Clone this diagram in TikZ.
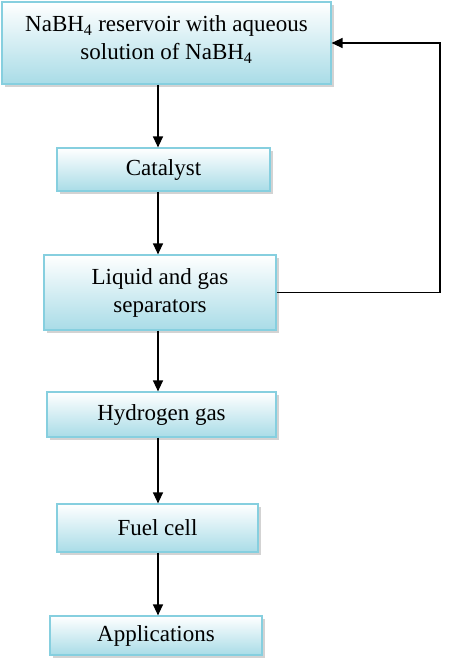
\documentclass[tikz,border=0pt]{standalone}
\usepackage{fontspec}
\setmainfont{Liberation Serif}
\usepackage{tikz}
\usetikzlibrary{arrows.meta, shadows}

\definecolor{boxedge}{HTML}{86CFDF}
\definecolor{boxfill}{HTML}{A9DCE7}

\begin{document}
\begin{tikzpicture}[
    x=1pt, y=-1pt,
    box/.style={
	draw=boxedge,
	line width=1.2pt,
	top color=white,
	bottom color=boxfill,
	drop shadow={shadow xshift=3pt, shadow yshift=-3pt, opacity=0.35},
	align=center,
	font=\fontsize{23}{28}\selectfont,
	inner sep=2pt
    },
    flow/.style={->, line width=1.3pt},
    >={Triangle[length=11pt,width=10pt]}
]
	\useasboundingbox (0,0) rectangle (457,662);

	\node[box, minimum width=329pt, minimum height=82pt] (res) at (166.5,43)
	    {NaBH\textsubscript{4} reservoir with aqueous\\solution of NaBH\textsubscript{4}\\[-18pt]};
	\node[box, minimum width=213pt, minimum height=43pt] (cat) at (163.5,169.5) {Catalyst};
	\node[box, minimum width=232pt, minimum height=75pt] (sep) at (160,292.5)
	    {Liquid and gas\\separators};
	\node[box, minimum width=229pt, minimum height=45pt] (hyd) at (161.5,414.5) {Hydrogen gas};
	\node[box, minimum width=201pt, minimum height=48pt] (fuel) at (157.5,528) {Fuel cell};
	\node[box, minimum width=212pt, minimum height=39pt] (app) at (156,635.5) {Applications};

	% main column
	\coordinate (axis) at (158,0);
	\draw[flow] (res.south -| axis) -- (cat.north -| axis);
	\draw[flow] (cat.south -| axis) -- (sep.north -| axis);
	\draw[flow] (sep.south -| axis) -- (hyd.north -| axis);
	\draw[flow] (hyd.south -| axis) -- (fuel.north -| axis);
	\draw[flow] (fuel.south -| axis) -- (app.north -| axis);

	% Separators -> Reservoir
	\coordinate (ret) at (440,0);
	\draw[flow] (sep.east) -- (sep.east -| ret) |- (res.east);
\end{tikzpicture}
\end{document}
